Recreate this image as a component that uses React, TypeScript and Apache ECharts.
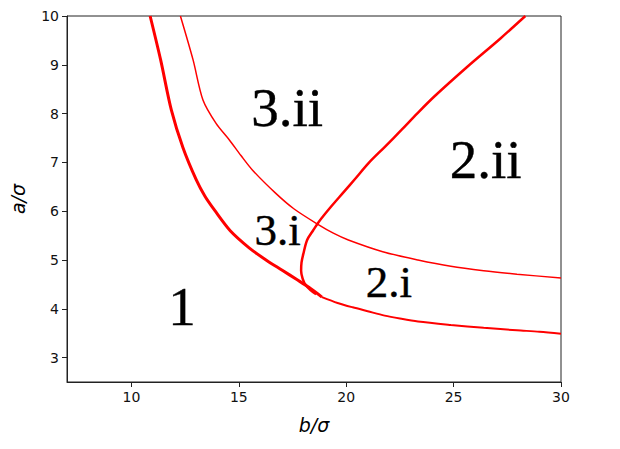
import React, { useEffect, useRef } from "react";
import * as echarts from "echarts";

// Boundary of region 1 (upper, thicker part) [b/σ, a/σ]
const curveA1: number[][] = [
  [10.87, 10], [11.36, 9.1], [11.86, 8.07], [12.4, 7.3], [13.02, 6.64], [13.43, 6.3],
  [13.87, 6.02], [14.6, 5.6], [15.48, 5.25], [16.3, 4.99], [17.02, 4.79], [17.7, 4.6],
  [18.26, 4.44], [18.87, 4.24],
];
// Continuation of lower boundary
const curveA2: number[][] = [
  [18.87, 4.24], [19.6, 4.12], [20.3, 4.03], [21.0, 3.95], [21.79, 3.86], [22.5, 3.8],
  [23.34, 3.74], [24.87, 3.67], [26.4, 3.61], [27.95, 3.56], [29.0, 3.53], [30, 3.49],
];
// Thin upper boundary (3.i / 3.ii, 2.i / 2.ii)
const curveB: number[][] = [
  [12.28, 10], [12.87, 9.1], [13.33, 8.28], [13.94, 7.8],
  [14.56, 7.46], [15.1, 7.14], [15.64, 6.84], [16.71, 6.37], [17.56, 6.05], [18.72, 5.72],
  [19.4, 5.55], [20.1, 5.41], [21.7, 5.17], [23.34, 5.0], [24.87, 4.87],
  [26.4, 4.78], [27.95, 4.71], [30, 4.63],
];
// Nose-shaped boundary between 3 and 2
const curveC: number[][] = [
  [18.6, 4.3], [18.35, 4.38], [18.12, 4.48], [17.97, 4.62], [17.9, 4.78], [17.92, 4.95],
  [18.0, 5.12], [18.18, 5.41], [18.45, 5.6], [18.72, 5.78], [19.25, 6.07], [19.9, 6.4],
  [20.41, 6.66], [21.03, 6.98], [21.8, 7.32], [22.56, 7.66], [23.3, 8.0], [24.1, 8.35],
  [25.64, 8.96], [27.18, 9.54], [28.34, 10],
];

const bigLabels = [
  { name: "1", value: [12.36, 4.04] },
  { name: "3.ii", value: [17.25, 8.13] },
  { name: "2.ii", value: [26.49, 7.06] },
];
const smallLabels = [
  { name: "3.i", value: [16.81, 5.61] },
  { name: "2.i", value: [21.99, 4.54] },
];

const xTicks = [10, 15, 20, 25, 30];
const yTicks = [3, 4, 5, 6, 7, 8, 9, 10];

export default function App() {
  const ref = useRef<HTMLDivElement>(null);
  useEffect(() => {
    document.body.style.margin = "0";
    if (!ref.current) return;
    const chart = echarts.init(ref.current, null, { renderer: "svg" });
    const lineSeries = (data: number[][], width: number) => ({
      type: "line",
      data,
      smooth: 0.3,
      showSymbol: false,
      symbol: "none",
      lineStyle: { color: "#ff0000", width },
      z: 2,
    });
    const labelSeries = (data: any[], size: number) => ({
      type: "scatter",
      data,
      symbol: "circle",
      symbolSize: 1,
      itemStyle: { color: "rgba(0,0,0,0)" },
      label: {
        show: true,
        position: "inside",
        formatter: (p: any) => p.name,
        fontFamily: "Liberation Serif",
        fontSize: size,
        color: "#000",
        opacity: 1,
        textBorderColor: "#000",
        textBorderWidth: 0.4,
      },
      z: 3,
    });
    chart.setOption({
      animation: false,
      backgroundColor: "#fff",
      grid: {
        left: 63, right: 59, top: 16, bottom: 67,
        show: true, borderColor: "#222", borderWidth: 1, backgroundColor: "transparent",
      },
      xAxis: {
        type: "value",
        min: 7,
        max: 30,
        name: "b/σ",
        nameLocation: "middle",
        nameGap: 33,
        nameTextStyle: { fontFamily: "DejaVu Sans", fontStyle: "italic", fontSize: 19, color: "#000" },
        axisLine: { show: true, onZero: false, lineStyle: { color: "#222", width: 1 } },
        axisTick: { show: true, length: 5, customValues: xTicks, lineStyle: { color: "#222" } },
        axisLabel: { customValues: xTicks, fontFamily: "DejaVu Sans", fontSize: 14, color: "#111", margin: 8 },
        splitLine: { show: false },
      },
      yAxis: {
        type: "value",
        min: 2.5,
        max: 10,
        name: "a/σ",
        nameLocation: "middle",
        nameGap: 40,
        nameTextStyle: { fontFamily: "DejaVu Sans", fontStyle: "italic", fontSize: 19, color: "#000" },
        axisLine: { show: true, onZero: false, lineStyle: { color: "#222", width: 1 } },
        axisTick: { show: true, length: 5, customValues: yTicks, lineStyle: { color: "#222" } },
        axisLabel: { customValues: yTicks, fontFamily: "DejaVu Sans", fontSize: 14, color: "#111", margin: 8 },
        splitLine: { show: false },
      },
      series: [
        lineSeries(curveA1, 3),
        lineSeries(curveA2, 2),
        lineSeries(curveB, 1.5),
        lineSeries(curveC, 2.5),
        labelSeries(bigLabels, 55),
        labelSeries(smallLabels, 45),
      ],
    });
    return () => chart.dispose();
  }, []);
  return <div ref={ref} style={{ width: 620, height: 449 }} />;
}
